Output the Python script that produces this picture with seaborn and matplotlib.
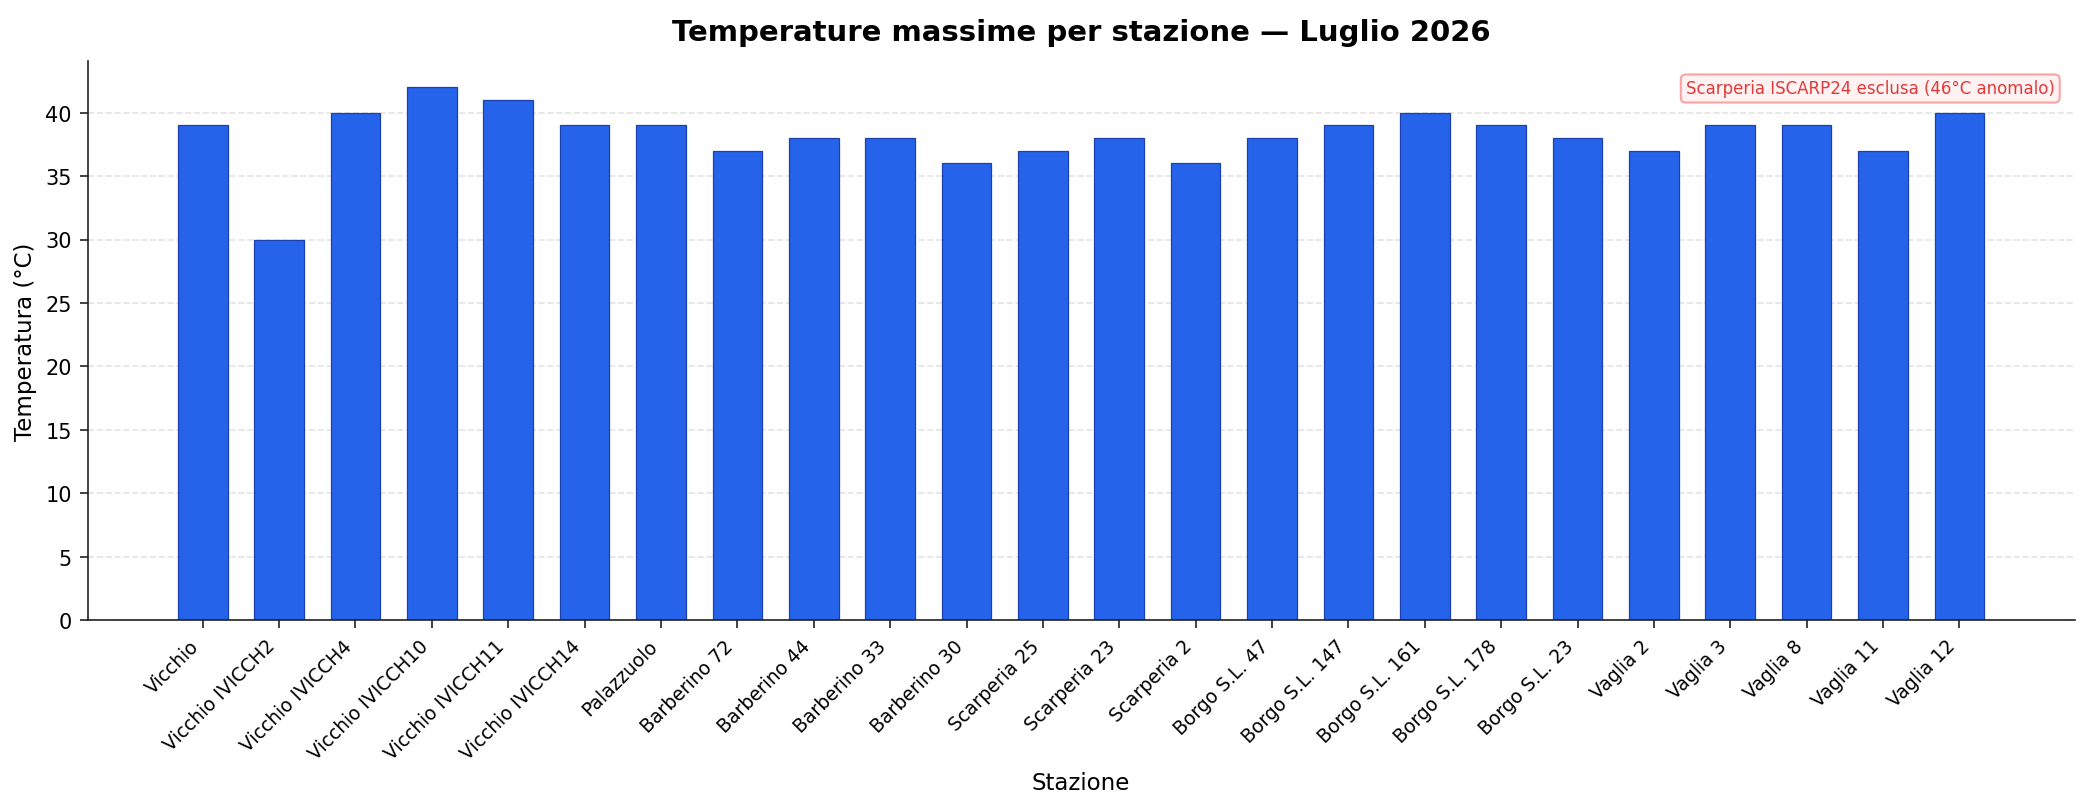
import pandas as pd
import matplotlib
matplotlib.use("Agg")
import matplotlib.pyplot as plt
import seaborn as sns

# station names and max temperatures (°C), July 2026
stazioni = [
    "Vicchio", "Vicchio IVICCH2", "Vicchio IVICCH4", "Vicchio IVICCH10",
    "Vicchio IVICCH11", "Vicchio IVICCH14", "Palazzuolo", "Barberino 72",
    "Barberino 44", "Barberino 33", "Barberino 30", "Scarperia 25",
    "Scarperia 23", "Scarperia 2", "Borgo S.L. 47", "Borgo S.L. 147",
    "Borgo S.L. 161", "Borgo S.L. 178", "Borgo S.L. 23", "Vaglia 2",
    "Vaglia 3", "Vaglia 8", "Vaglia 11", "Vaglia 12",
]
temperature = [39, 30, 40, 42, 41, 39, 39, 37, 38, 38, 36, 37,
               38, 36, 38, 39, 40, 39, 38, 37, 39, 39, 37, 40]

nota = "Scarperia ISCARP24 esclusa (46°C anomalo)"

df = pd.DataFrame({"Stazione": stazioni, "Temperatura": temperature})

sns.set_style("white")
plt.rcParams["font.family"] = ["DejaVu Sans"]
plt.rcParams["text.color"] = "black"
plt.rcParams["axes.labelcolor"] = "black"
plt.rcParams["xtick.color"] = "#222222"
plt.rcParams["ytick.color"] = "#222222"
plt.rcParams["xtick.labelcolor"] = "black"
plt.rcParams["ytick.labelcolor"] = "black"
plt.rcParams["axes.edgecolor"] = "#222222"

fig, ax = plt.subplots(figsize=(13.9, 5.393), dpi=150)
sns.barplot(data=df, x="Stazione", y="Temperatura", color="#2563eb",
            saturation=1, width=0.65, edgecolor="#1e40af", linewidth=0.6,
            ax=ax)

# matplotlib-like default margins around the bars
n = len(stazioni)
span = (n - 1) + 0.65
ax.set_xlim(-0.325 - 0.05 * span, n - 1 + 0.325 + 0.05 * span)
ax.set_ylim(0, max(temperature) * 1.05)

ax.yaxis.grid(True, linestyle="--", color="#dddddd", alpha=0.8, linewidth=0.8)
ax.set_axisbelow(True)
sns.despine(ax=ax)
ax.tick_params(axis="both", which="both", bottom=True, left=True, length=4)

plt.setp(ax.get_xticklabels(), rotation=45, ha="right", fontsize=9)
ax.tick_params(axis="y", labelsize=10)

ax.set_title("Temperature massime per stazione — Luglio 2026",
             fontsize=14, fontweight="bold", pad=10)
ax.set_xlabel("Stazione", fontsize=11)
ax.set_ylabel("Temperatura (°C)", fontsize=11)

ax.text(0.99, 0.95, nota, transform=ax.transAxes, ha="right", va="center",
        fontsize=8, color="#e03a3a",
        bbox=dict(boxstyle="round,pad=0.3", fc="#fef2f2", ec="#f9a3a3",
                  lw=1))

fig.subplots_adjust(left=0.042, right=0.995, top=0.924, bottom=0.232)
fig.savefig("out.png", dpi=150)
